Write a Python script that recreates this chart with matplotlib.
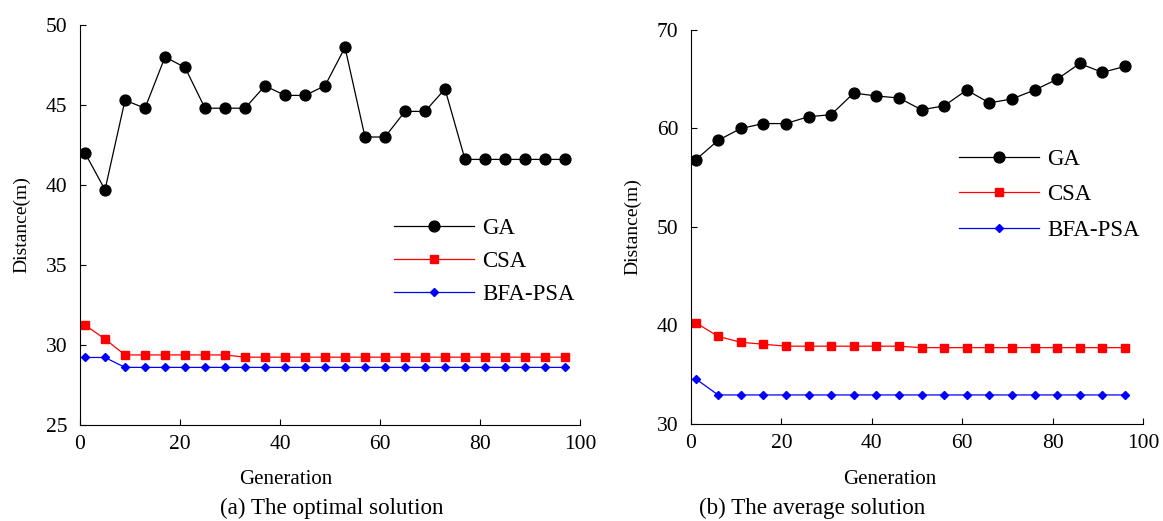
import matplotlib
matplotlib.use("Agg")
import matplotlib.pyplot as plt

plt.rcParams.update({
    "font.family": ["Liberation Serif", "DejaVu Serif"],
    "font.size": 11,
    "xtick.direction": "in",
    "ytick.direction": "in",
})

# ── Data ────────────────────────────────────────────────────────────────────
# (a) optimal solution
a_gen = list(range(1, 98, 4))
a_ga = [42.0, 39.7, 45.3, 44.8, 48.0, 47.35, 44.8, 44.8, 44.8, 46.2, 45.6, 45.6,
        46.2, 48.6, 43.0, 43.0, 44.6, 44.6, 46.0, 41.6, 41.6, 41.6, 41.6, 41.6, 41.6]
a_csa = [31.25, 30.37, 29.38, 29.38, 29.38, 29.38, 29.38, 29.38] + [29.24] * 17
a_bfa = [29.22, 29.22] + [28.6] * 23

# (b) average solution
b_gen = list(range(1, 97, 5))
b_ga = [56.8, 58.8, 60.0, 60.5, 60.5, 61.2, 61.4, 63.6, 63.3, 63.1,
        61.9, 62.3, 63.9, 62.6, 63.0, 63.9, 65.0, 66.6, 65.7, 66.3]
b_csa = [40.3, 38.9, 38.3, 38.1, 37.9, 37.9, 37.9, 37.9, 37.9, 37.9] + [37.75] * 10
b_bfa = [34.6] + [32.95] * 19

W, H = 1163, 521
fig = plt.figure(figsize=(W / 100, H / 100), dpi=100)

panels = [
    dict(rect=(80, 25, 580, 425), x=a_gen, ga=a_ga, csa=a_csa, bfa=a_bfa,
         ylim=(25, 50), yticks=[25, 30, 35, 40, 45, 50],
         caption="(a) The optimal solution", cap_x=332, gen_x=286,
         leg=(0.587, 0.57), sp=0.53),
    dict(rect=(691, 30, 1143, 424), x=b_gen, ga=b_ga, csa=b_csa, bfa=b_bfa,
         ylim=(30, 70), yticks=[30, 40, 50, 60, 70],
         caption="(b) The average solution", cap_x=812, gen_x=890,
         leg=(0.547, 0.75), sp=0.62),
]

for p in panels:
    x0, y0, x1, y1 = p["rect"]
    ax = fig.add_axes([x0 / W, 1 - y1 / H, (x1 - x0) / W, (y1 - y0) / H])
    ax.plot(p["x"], p["ga"], color="black", lw=0.9, marker="o", ms=7.8,
            label="GA")
    ax.plot(p["x"], p["csa"], color="red", lw=0.9, marker="s", ms=6.2,
            label="CSA")
    ax.plot(p["x"], p["bfa"], color="blue", lw=0.9, marker="D", ms=4.0,
            label="BFA-PSA")
    ax.set_xlim(0, 100)
    ax.set_ylim(*p["ylim"])
    ax.set_xticks([0, 20, 40, 60, 80, 100])
    ax.set_yticks(p["yticks"])
    ax.tick_params(labelsize=15.5, length=4, width=0.8)
    ax.tick_params(axis="x", pad=7)
    ax.tick_params(axis="y", pad=9)
    for s in ["top", "right"]:
        ax.spines[s].set_visible(False)
    ax.set_ylabel("Distance(m)", fontsize=14, labelpad=11)
    ax.legend(loc="upper left", bbox_to_anchor=p["leg"], frameon=False,
              fontsize=16.5, handlelength=3.5, labelspacing=p["sp"],
              handletextpad=0.35)
    fig.text(p["gen_x"] / W, 1 - 480 / H, "Generation", ha="center",
             va="center", fontsize=15)
    fig.text(p["cap_x"] / W, 1 - 508 / H, p["caption"], ha="center",
             va="center", fontsize=16.7)

fig.savefig("out.png", dpi=100)
